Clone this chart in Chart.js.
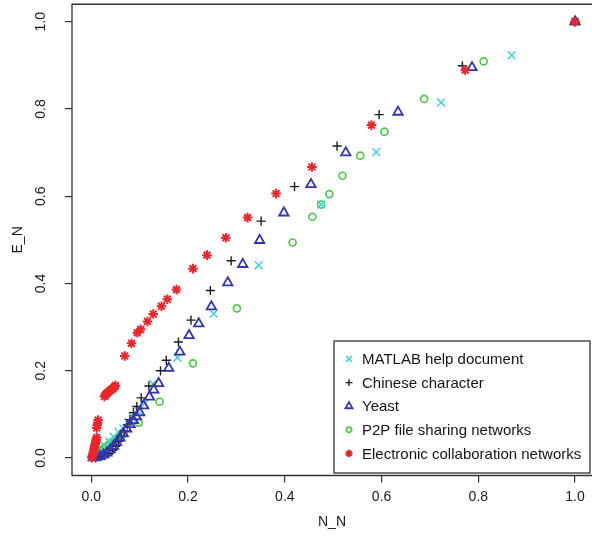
<!DOCTYPE html>
<html><head><meta charset="utf-8">
<script src="https://cdn.jsdelivr.net/npm/chart.js@4.4.0/dist/chart.umd.min.js"></script>
<style>html,body{margin:0;padding:0;background:#fff}canvas{display:block}</style>
</head><body>
<canvas id="c" width="592" height="539"></canvas>
<script>
// ---- data ----
const seriesNames = ['MATLAB help document', 'Chinese character', 'Yeast', 'P2P file sharing networks', 'Electronic collaboration networks'];

const matlabX = [1.0, 0.869, 0.723, 0.589, 0.475, 0.346, 0.253, 0.178, 0.127, 0.110, 0.097, 0.086, 0.076, 0.066, 0.056, 0.046, 0.037, 0.028, 0.019, 0.010, 0.003];
const matlabY = [1.0, 0.923, 0.815, 0.701, 0.581, 0.442, 0.331, 0.230, 0.170, 0.125, 0.108, 0.095, 0.082, 0.068, 0.060, 0.049, 0.038, 0.028, 0.018, 0.009, 0.003];

const chineseX = [1.0, 0.767, 0.595, 0.508, 0.420, 0.351, 0.289, 0.246, 0.206, 0.180, 0.155, 0.143, 0.119, 0.103, 0.094, 0.087, 0.080, 0.074, 0.068, 0.062, 0.056, 0.050, 0.044, 0.036, 0.027, 0.018, 0.009];
const chineseY = [1.0, 0.899, 0.787, 0.715, 0.622, 0.543, 0.452, 0.384, 0.316, 0.266, 0.224, 0.200, 0.165, 0.138, 0.118, 0.104, 0.088, 0.076, 0.062, 0.050, 0.038, 0.027, 0.018, 0.011, 0.006, 0.003, 0.001];

const yeastX = [1.0, 0.787, 0.634, 0.526, 0.454, 0.398, 0.348, 0.313, 0.282, 0.248, 0.222, 0.202, 0.183, 0.160, 0.139, 0.129, 0.120, 0.108, 0.100, 0.093, 0.087, 0.080, 0.073, 0.066, 0.059, 0.052, 0.046, 0.039, 0.032, 0.025, 0.018, 0.010, 0.004];
const yeastY = [1.0, 0.895, 0.793, 0.700, 0.627, 0.562, 0.499, 0.444, 0.402, 0.347, 0.308, 0.281, 0.243, 0.206, 0.171, 0.156, 0.140, 0.120, 0.104, 0.095, 0.086, 0.077, 0.067, 0.056, 0.046, 0.036, 0.027, 0.019, 0.012, 0.007, 0.004, 0.002, 0.001];

const p2pX = [1.0, 0.811, 0.688, 0.606, 0.556, 0.519, 0.492, 0.475, 0.457, 0.416, 0.301, 0.210, 0.141, 0.098, 0.066, 0.061, 0.056, 0.052, 0.048, 0.044, 0.040, 0.036, 0.032, 0.028, 0.024, 0.020, 0.016, 0.012, 0.008, 0.004];
const p2pY = [1.0, 0.909, 0.823, 0.748, 0.693, 0.647, 0.605, 0.581, 0.553, 0.494, 0.343, 0.217, 0.129, 0.081, 0.056, 0.051, 0.047, 0.043, 0.040, 0.037, 0.034, 0.031, 0.027, 0.024, 0.020, 0.017, 0.013, 0.010, 0.006, 0.003];

const collabX = [1.0, 0.773, 0.579, 0.456, 0.382, 0.323, 0.278, 0.239, 0.210, 0.176, 0.157, 0.145, 0.128, 0.116, 0.102, 0.095, 0.083, 0.069,
  0.050, 0.048, 0.045, 0.043, 0.040, 0.037, 0.034, 0.031, 0.029, 0.027,
  0.014, 0.013, 0.012, 0.011,
  0.011, 0.010, 0.009, 0.008, 0.007, 0.006, 0.005, 0.004, 0.003, 0.002, 0.001];
const collabY = [1.0, 0.889, 0.763, 0.667, 0.606, 0.551, 0.505, 0.465, 0.434, 0.386, 0.364, 0.348, 0.330, 0.313, 0.295, 0.287, 0.263, 0.234,
  0.166, 0.163, 0.160, 0.158, 0.156, 0.153, 0.150, 0.147, 0.144, 0.141,
  0.087, 0.081, 0.075, 0.069,
  0.047, 0.042, 0.037, 0.032, 0.027, 0.022, 0.017, 0.012, 0.008, 0.004, 0.001];

const tickValues = [0.0, 0.2, 0.4, 0.6, 0.8, 1.0];
const xTitle = 'N_N';
const yTitle = 'E_N';

// ---- styling ----
const FONT = '"Liberation Sans", Arial, Helvetica, sans-serif';
const styles = [
  {color: '#4fcfd3', pointStyle: 'crossRot', radius: 5.5, width: 1.6, order: 3},
  {color: '#1e1e1e', pointStyle: 'cross', radius: 4.6, width: 1.4, order: 2},
  {color: '#3434ae', pointStyle: 'triangle', radius: 5.4, width: 1.8, order: 1},
  {color: '#52c94a', pointStyle: 'circle', radius: 3.5, width: 1.7, order: 4},
  {color: '#e6282d', pointStyle: 'star', radius: 4.8, width: 2.0, order: 0}
];
const xs = [matlabX, chineseX, yeastX, p2pX, collabX];
const ys = [matlabY, chineseY, yeastY, p2pY, collabY];

const datasets = seriesNames.map((name, i) => ({
  label: name,
  data: xs[i].map((x, k) => ({x: x, y: ys[i][k]})),
  showLine: false,
  pointStyle: styles[i].pointStyle,
  pointRadius: styles[i].radius,
  pointBorderWidth: styles[i].width,
  borderColor: styles[i].color,
  pointBorderColor: styles[i].color,
  pointBackgroundColor: 'rgba(0,0,0,0)',
  backgroundColor: 'rgba(0,0,0,0)',
  order: styles[i].order
}));

const boxPlugin = {
  id: 'rbox',
  beforeDatasetsDraw(chart) {
    const {ctx, chartArea: a} = chart;
    ctx.save();
    ctx.strokeStyle = '#333';
    ctx.lineWidth = 1.3;
    ctx.beginPath();
    ctx.moveTo(a.right + 3, a.top);
    ctx.lineTo(a.left, a.top);
    ctx.lineTo(a.left, a.bottom);
    ctx.lineTo(a.right + 3, a.bottom);
    ctx.stroke();
    ctx.restore();
  }
};

const legendPlugin = {
  id: 'rlegend',
  afterDraw(chart) {
    const {ctx, chartArea: a} = chart;
    const w = 256, h = 132;
    const bx = a.right - w - 2, by = a.bottom - h - 2.5;
    ctx.save();
    ctx.fillStyle = '#fff';
    ctx.fillRect(bx, by, w, h);
    ctx.strokeStyle = '#333';
    ctx.lineWidth = 1.3;
    ctx.strokeRect(bx, by, w, h);
    ctx.font = '15px ' + FONT;
    ctx.textBaseline = 'middle';
    ctx.textAlign = 'left';
    seriesNames.forEach((name, i) => {
      const y = by + 18 + i * 23.6;
      const mx = bx + 15;
      ctx.save();
      ctx.strokeStyle = styles[i].color;
      ctx.fillStyle = 'rgba(0,0,0,0)';
      ctx.lineWidth = styles[i].width;
      Chart.helpers.drawPoint(ctx, {pointStyle: styles[i].pointStyle, radius: styles[i].radius * 0.75, borderWidth: styles[i].width, rotation: 0}, mx, y);
      ctx.restore();
      ctx.fillStyle = '#151515';
      ctx.fillText(name, bx + 28, y + 1);
    });
    ctx.restore();
  }
};

const setTicks = (s) => { s.ticks = tickValues.map(v => ({value: v})); };

new Chart(document.getElementById('c'), {
  type: 'scatter',
  data: {datasets},
  options: {
    responsive: false,
    devicePixelRatio: 1,
    animation: false,
    layout: {autoPadding: false, padding: {top: 4.25, left: 0, right: 0, bottom: 0}},
    plugins: {legend: {display: false}, tooltip: {enabled: false}},
    scales: {
      x: {
        type: 'linear', min: -0.04, max: 1.035,
        afterBuildTicks: setTicks,
        afterFit: (s) => { s.height = 63.5; s.paddingLeft = 0; s.paddingRight = 0; },
        border: {display: false},
        grid: {drawOnChartArea: false, drawTicks: true, tickLength: 7, color: '#333', lineWidth: 1.2},
        ticks: {padding: 6, color: '#1a1a1a', font: {family: FONT, size: 14}, maxRotation: 0, autoSkip: false,
          callback: (v) => Number(v).toFixed(1)},
        title: {display: true, text: xTitle, color: '#1a1a1a', font: {family: FONT, size: 14}, padding: {top: 0, bottom: 8.6}}
      },
      y: {
        type: 'linear', min: -0.04, max: 1.04,
        afterBuildTicks: setTicks,
        afterFit: (s) => { s.width = 72; s.paddingTop = 0; s.paddingBottom = 0; },
        border: {display: false},
        grid: {drawOnChartArea: false, drawTicks: true, tickLength: 7, color: '#333', lineWidth: 1.2},
        ticks: {padding: 14.3, color: '#1a1a1a', font: {family: FONT, size: 14}, minRotation: 90, maxRotation: 90,
          crossAlign: 'center', autoSkip: false, callback: (v) => Number(v).toFixed(1)},
        title: {display: true, text: yTitle, color: '#1a1a1a', font: {family: FONT, size: 14}, padding: {top: 9.6, bottom: 0}}
      }
    }
  },
  plugins: [boxPlugin, legendPlugin]
});
</script>
</body></html>
